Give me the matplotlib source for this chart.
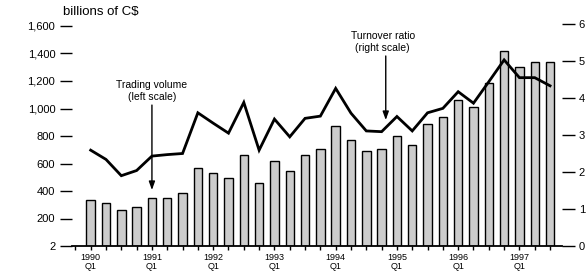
import matplotlib
matplotlib.use("Agg")
import matplotlib.pyplot as plt
from matplotlib.ticker import FixedLocator, MultipleLocator

plt.rcParams["font.family"] = ["Liberation Sans", "DejaVu Sans"]

# quarterly data, 1990 Q1 .. 1997 Q3
years = [1990, 1991, 1992, 1993, 1994, 1995, 1996, 1997]
volume = [335, 310, 260, 284, 351, 351, 383, 570,
          531, 492, 664, 456, 618, 548, 662, 703,
          873, 768, 693, 705, 800, 732, 887, 936,
          1059, 1011, 1183, 1418, 1304, 1341, 1341]
turnover = [2.59, 2.34, 1.90, 2.04, 2.43, 2.47, 2.50, 3.60,
            3.32, 3.05, 3.88, 2.59, 3.43, 2.95, 3.45, 3.51,
            4.26, 3.59, 3.11, 3.09, 3.50, 3.11, 3.60, 3.72,
            4.17, 3.86, 4.44, 5.03, 4.55, 4.55, 4.33]
left_ticks = [0, 200, 400, 600, 800, 1000, 1200, 1400, 1600]
left_labels = ["2", "200", "400", "600", "800", "1,000", "1,200", "1,400", "1,600"]
right_ticks = [0, 1, 2, 3, 4, 5, 6]

W, H = 586, 276
fig = plt.figure(figsize=(W / 100, H / 100), dpi=100)
ax = fig.add_axes([72 / W, 30 / H, (562 - 72) / W, (246 - 24) / H])
ax2 = ax.twinx()

x = list(range(len(volume)))
ax.bar(x, volume, width=0.55, color="#cccccc", edgecolor="black", linewidth=1.0, zorder=2)
ax2.plot(x, turnover, color="black", linewidth=2.0, solid_joinstyle="miter", zorder=3)

ax.set_xlim(-1.22, 30.78)
ax.set_ylim(0, 1600 * 222 / 220)
ax2.set_ylim(0, 6)

for a in (ax, ax2):
    for s in ("top", "left", "right"):
        a.spines[s].set_visible(False)
ax2.spines["bottom"].set_visible(False)
ax.spines["bottom"].set_linewidth(1.3)

# x axis: a tick every quarter, labels on Q1
ax.set_xticks([4 * i for i in range(len(years))])
ax.set_xticklabels([f"{y}\nQ1" for y in years], fontsize=6.5, linespacing=0.95)
ax.xaxis.set_minor_locator(MultipleLocator(1))
ax.tick_params(axis="x", which="both", length=3, width=1, pad=2)

ax.yaxis.set_major_locator(FixedLocator(left_ticks))
ax.set_yticklabels(left_labels, fontsize=8)
ax.tick_params(axis="y", length=9, width=1, pad=3)

ax2.yaxis.set_major_locator(FixedLocator(right_ticks))
ax2.set_yticklabels([str(t) for t in right_ticks], fontsize=8)
ax2.tick_params(axis="y", length=9, width=1, pad=3)

arrow = dict(arrowstyle="-|>,head_width=0.18,head_length=0.5", color="black",
             lw=1, shrinkA=0, shrinkB=0)
ax.annotate("", xy=(4, 407), xytext=(4, 1025), arrowprops=arrow, zorder=4)
ax.text(4, 1050, "Trading volume\n(left scale)", ha="center", va="bottom",
        fontsize=7.5, linespacing=1.25)
ax.annotate("", xy=(19.27, 916), xytext=(19.27, 1382), arrowprops=arrow, zorder=4)
ax.text(19.07, 1405, "Turnover ratio\n(right scale)", ha="center", va="bottom",
        fontsize=7.5, linespacing=1.25)

fig.text(63 / W, 1 - 12 / H, "billions of C$", fontsize=9.5, va="center", ha="left")

fig.savefig("out.png", dpi=100)
